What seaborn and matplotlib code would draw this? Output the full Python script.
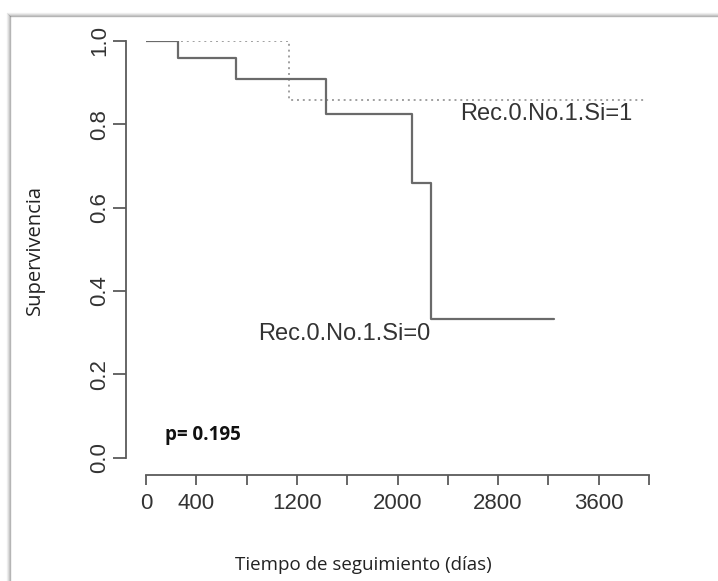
import numpy as np
import pandas as pd
import matplotlib
matplotlib.use("Agg")
import matplotlib.pyplot as plt
from matplotlib.lines import Line2D
import seaborn as sns

# Kaplan-Meier steps
tiempo_si0 = [0, 254, 716, 1429, 2113, 2266, 3245]
superv_si0 = [1.0, 0.96, 0.909, 0.825, 0.66, 0.332, 0.332]
tiempo_si1 = [0, 1140, 3984]
superv_si1 = [1.0, 0.858, 0.858]

x_ticks = [0, 400, 800, 1200, 1600, 2000, 2400, 2800, 3200, 3600, 4000]
x_labels = ["0", "400", "", "1200", "", "2000", "", "2800", "", "3600", ""]
y_ticks = [0.0, 0.2, 0.4, 0.6, 0.8, 1.0]
y_labels = ["0.0", "0.2", "0.4", "0.6", "0.8", "1.0"]

df0 = pd.DataFrame({"tiempo": tiempo_si0, "superv": superv_si0})
df1 = pd.DataFrame({"tiempo": tiempo_si1, "superv": superv_si1})

sns.set_style("ticks")
plt.rcParams["font.family"] = ["Liberation Sans", "DejaVu Sans"]

W, H = 718, 581
fig = plt.figure(figsize=(W / 100, H / 100), dpi=100)
fig.patch.set_facecolor("white")

# axes placed in pixels (R-style plot region)
x0, x1, ytop, ybot = 146, 649, 41, 457.5
ax = fig.add_axes([x0 / W, (H - ybot) / H, (x1 - x0) / W, (ybot - ytop) / H])
ax.set_facecolor("white")

sns.lineplot(data=df1, x="tiempo", y="superv", ax=ax, estimator=None, sort=False,
             drawstyle="steps-post", color="#a0a0a0", linestyle=(0, (1, 2)), linewidth=1.4)
sns.lineplot(data=df0, x="tiempo", y="superv", ax=ax, estimator=None, sort=False,
             drawstyle="steps-post", color="#6a6a6a", linewidth=1.6)

ax.set_xlim(0, 4000)
ax.set_ylim(0, 1)

axis_col = "#5a5a5a"
for s in ["top", "right"]:
    ax.spines[s].set_visible(False)
ax.spines["left"].set_position(("outward", 14.4))
ax.spines["bottom"].set_position(("outward", 12.6))
ax.spines["left"].set_bounds(0, 1)
ax.spines["bottom"].set_bounds(0, 4000)
for s in ["left", "bottom"]:
    ax.spines[s].set_color(axis_col)
    ax.spines[s].set_linewidth(1.3)

ax.set_xticks(x_ticks)
ax.set_xticklabels(x_labels)
ax.set_yticks(y_ticks)
ax.set_yticklabels(y_labels, rotation=90, va="center")
ax.tick_params(axis="both", colors=axis_col, labelcolor="#333333", labelsize=16,
               width=1.3)
ax.tick_params(axis="y", length=9.4, pad=2)
ax.tick_params(axis="x", length=7.2, pad=6)
ax.set_xlabel("")
ax.set_ylabel("")

lbl_font = ["Liberation Sans", "DejaVu Sans"]
ax.text(2497, 0.825, "Rec.0.No.1.Si=1", fontsize=17, color="#333333",
        ha="left", va="center", family=lbl_font)
ax.text(891, 0.297, "Rec.0.No.1.Si=0", fontsize=17, color="#333333",
        ha="left", va="center", family=lbl_font)
ax.text(151, 0.054, "p= 0.195", fontsize=13.5, fontweight="bold", color="#111111",
        ha="left", va="center", family=["Open Sans", "DejaVu Sans"])

fig.text(363 / W, 1 - 565 / H, "Tiempo de seguimiento (días)", fontsize=13.5,
         color="#222222", ha="center", va="center", family=["Open Sans", "DejaVu Sans"])
fig.text(35 / W, 1 - 250 / H, "Supervivencia", fontsize=14.5, rotation=90,
         color="#222222", ha="center", va="center", family=["Open Sans", "DejaVu Sans"])

# screenshot drop shadow along top and left edges
for i, a in enumerate([0.55, 0.35, 0.2, 0.1]):
    yy = 1 - (16 - i) / H
    xx = (10 - i) / W
    fig.add_artist(Line2D([xx, 1], [yy, yy], transform=fig.transFigure,
                          color="#808080", alpha=a, linewidth=1))
    fig.add_artist(Line2D([xx, xx], [0, yy], transform=fig.transFigure,
                          color="#808080", alpha=a, linewidth=1))

fig.savefig("out.png", dpi=100, facecolor="white")
